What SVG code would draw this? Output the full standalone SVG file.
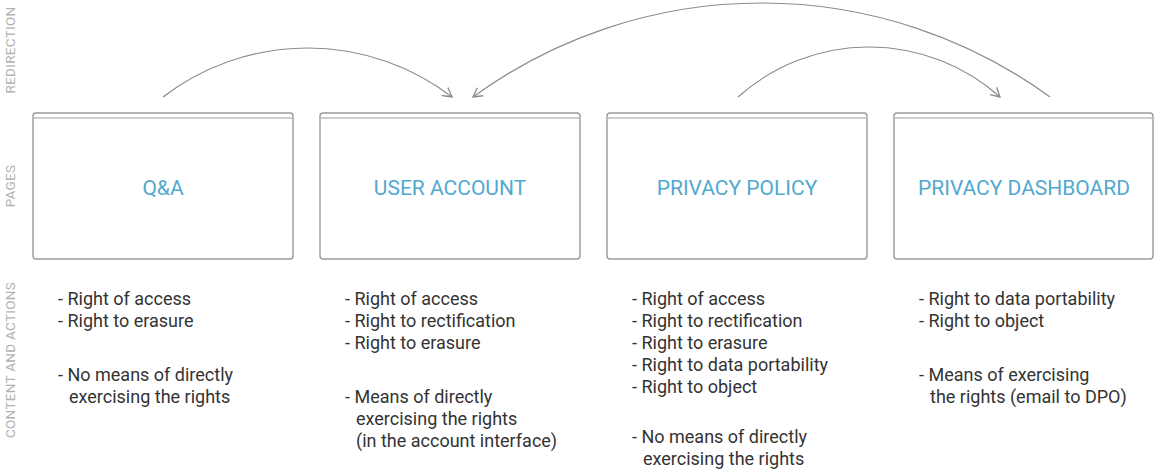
<svg xmlns="http://www.w3.org/2000/svg" width="1156" height="472" viewBox="0 0 1156 472">
<style>
.side{font-family:Roboto,"Liberation Sans",sans-serif;font-size:13.5px;fill:#b3b3b3;text-anchor:middle;letter-spacing:0.3px}
.box{fill:#fff;stroke:#9a9a9a;stroke-width:1.4}
.bar{stroke:#9a9a9a;stroke-width:1.2}
.title{font-family:Roboto,"Liberation Sans",sans-serif;font-size:21px;fill:#52a9cf;text-anchor:middle}
.body{font-family:Roboto,"Liberation Sans",sans-serif;font-size:18px;fill:#333}
.conn{fill:none;stroke:#8c8c8c;stroke-width:1.2;marker-end:url(#arr)}
</style>
<defs>
<marker id="arr" viewBox="0 0 12 12" refX="10" refY="6" markerWidth="12" markerHeight="12" markerUnits="userSpaceOnUse" orient="auto">
<path d="M1,1 L10,6 L1,11" fill="none" stroke="#8c8c8c" stroke-width="1.3"/>
</marker>
</defs>
<rect width="1156" height="472" fill="#fff"/>
<g id="side-labels">
<text class="side" transform="translate(14.5,50) rotate(-90)">REDIRECTION</text>
<text class="side" transform="translate(14.5,186) rotate(-90)">PAGES</text>
<text class="side" transform="translate(14.5,360) rotate(-90)">CONTENT AND ACTIONS</text>
</g>
<g id="connectors">
<path class="conn" d="M163,97 A237.6,237.6 0 0 1 452,97"/>
<path class="conn" d="M1050,97 A489.7,489.7 0 0 0 473,97"/>
<path class="conn" d="M738,97 A196.6,196.6 0 0 1 1000,97"/>
</g>
<g id="qa">
<rect class="box" x="33" y="113" width="260" height="146" rx="3"/>
<line class="bar" x1="34" y1="118" x2="292" y2="118"/>
<text class="title" x="163" y="194.5">Q&amp;A</text>
<text class="body"><tspan x="58" y="304.5">- Right of access</tspan><tspan x="58" y="326.5">- Right to erasure</tspan><tspan x="58" y="381">- No means of directly</tspan><tspan x="69" y="403">exercising the rights</tspan></text>
</g>
<g id="user-account">
<rect class="box" x="320" y="113" width="260" height="146" rx="3"/>
<line class="bar" x1="321" y1="118" x2="579" y2="118"/>
<text class="title" x="450" y="194.5">USER ACCOUNT</text>
<text class="body"><tspan x="345" y="304.5">- Right of access</tspan><tspan x="345" y="326.5">- Right to rectification</tspan><tspan x="345" y="348.5">- Right to erasure</tspan><tspan x="345" y="403">- Means of directly</tspan><tspan x="356" y="425">exercising the rights</tspan><tspan x="356" y="447">(in the account interface)</tspan></text>
</g>
<g id="privacy-policy">
<rect class="box" x="607" y="113" width="260" height="146" rx="3"/>
<line class="bar" x1="608" y1="118" x2="866" y2="118"/>
<text class="title" x="737" y="194.5">PRIVACY POLICY</text>
<text class="body"><tspan x="632" y="304.5">- Right of access</tspan><tspan x="632" y="326.5">- Right to rectification</tspan><tspan x="632" y="348.5">- Right to erasure</tspan><tspan x="632" y="370.5">- Right to data portability</tspan><tspan x="632" y="392.5">- Right to object</tspan><tspan x="632" y="443">- No means of directly</tspan><tspan x="643" y="465">exercising the rights</tspan></text>
</g>
<g id="privacy-dashboard">
<rect class="box" x="894" y="113" width="259" height="146" rx="3"/>
<line class="bar" x1="895" y1="118" x2="1152" y2="118"/>
<text class="title" x="1024" y="194.5">PRIVACY DASHBOARD</text>
<text class="body"><tspan x="919" y="304.5">- Right to data portability</tspan><tspan x="919" y="326.5">- Right to object</tspan><tspan x="919" y="381">- Means of exercising</tspan><tspan x="930" y="403">the rights (email to DPO)</tspan></text>
</g>
</svg>
